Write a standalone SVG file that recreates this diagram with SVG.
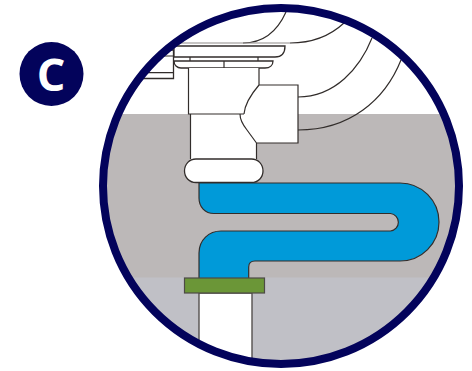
<svg xmlns="http://www.w3.org/2000/svg" width="472" height="371" viewBox="0 0 472 371">
<style>
.l{fill:none;stroke:#322d2b;stroke-width:1.2}
.w{fill:#fff;stroke:#322d2b;stroke-width:1.3}
.t{font-family:"Open Sans","Noto Sans",sans-serif;font-weight:700;font-size:45px;fill:#fff;text-anchor:middle}
</style>
<defs><clipPath id="c"><circle cx="281" cy="186" r="177"/></clipPath></defs>
<rect width="472" height="371" fill="#fff"/>
<g id="badge"><circle cx="51.5" cy="74" r="32" fill="#03035b"/><text class="t" x="51" y="90.500">C</text></g>
<g id="scene" clip-path="url(#c)">
<rect x="95" y="114" width="375" height="164" fill="#bcb8b8"/>
<rect x="95" y="277.500" width="375" height="95" fill="#c0c0c6"/>
<path class="l" d="M286 12C277 32 262 43 243 43M344 23C330 36 312 43 290 43M372 38C360 68 335 97 298 97M401 60C385 100 350 130 298 130"/>
<path class="w" d="M90 50H173.500V78.500H90Z"/>
<path class="l" d="M90 56H173.500M90 72.700H173.500"/>
<path d="M178 43H290" stroke="#8f8b89" stroke-width="1" fill="none"/>
<path class="w" d="M174 46H285C285 53 282 57 275 57H174Z"/>
<path class="l" d="M190 57V61M258 57V61"/>
<path class="w" d="M174 61H273C273 65 270 68 265 68H181C177 68 174 65 174 61Z"/>
<path class="l" d="M224 61V68"/>
<path d="M188.500 68H259V85H298V143H256.500V159H190.500V114H188.500Z" fill="#fff"/>
<path class="l" d="M188.500 68V114H244M259 68V85H298V143H256.500V159M190.500 114V159M259 85C253 92 245 102 244 114M240 114C240 119 243 125 247 130L256.500 143"/>
<path class="w" d="M196 159H251.500C258 159 263 164 263 171C263 177.500 258 182.500 251.500 182.500H196C189.500 182.500 184.500 177.500 184.500 171C184.500 164 189.500 159 196 159Z"/>
<path d="M199 183H400A39 39 0 0 1 400 261H255C251 261 248.700 263.500 248.700 267V279H199V253C199 240 209 231 221 231H390.500A8.800 8.800 0 0 0 390.500 213.500H214C205 213.500 199 207 199 198Z" fill="#009ad9" stroke="#322d2b" stroke-width="1.2"/>
<path d="M199 293H252V372H199Z" fill="#fff" stroke="#54504e" stroke-width="1.4"/>
<rect x="184.500" y="278" width="80" height="15" fill="#6b9637" stroke="#4d4a45" stroke-width="1.2"/>
</g>
<circle id="ring" cx="281" cy="186" r="178" fill="none" stroke="#03035b" stroke-width="8"/>
</svg>
